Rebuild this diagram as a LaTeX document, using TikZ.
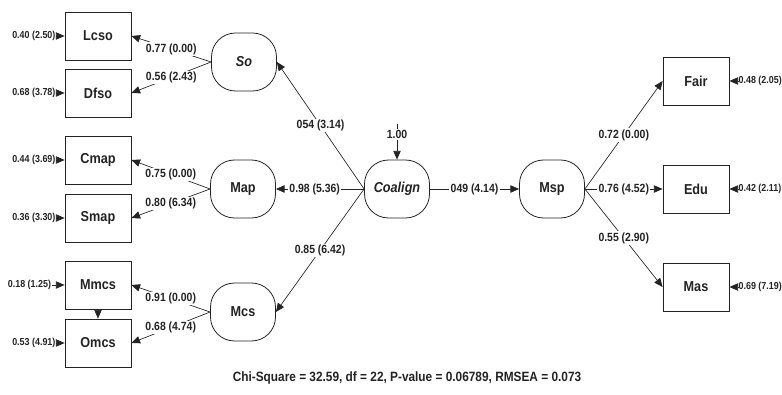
\documentclass[tikz,border=0pt]{standalone}
\usepackage{fontspec}
\setmainfont{Liberation Sans}[FakeStretch=0.88]
\usepackage{tikz}
\usetikzlibrary{arrows.meta, positioning}
\definecolor{pathink}{RGB}{35,35,35}
\tikzset{
  obsbox/.style={rectangle, draw=pathink, text=pathink,
    minimum width=49.5pt, minimum height=36pt,
    font=\fontsize{10.8}{12}\selectfont\bfseries, line width=0.6pt},
  latent/.style={rectangle, draw=pathink, text=pathink, rounded corners=18pt,
    minimum width=48.75pt, minimum height=43.5pt,
    font=\fontsize{10.8}{12}\selectfont\bfseries, line width=0.6pt},
  errlbl/.style={inner sep=0.5pt, text=pathink,
    font=\fontsize{7.6}{8}\selectfont\bfseries},
  coef/.style={fill=white, inner sep=1pt, text=pathink,
    font=\fontsize{8.9}{10}\selectfont\bfseries},
  arr/.style={-{Triangle[length=6.5pt,width=5.5pt]}, line width=0.5pt, color=pathink},
  line/.style={line width=0.5pt, color=pathink}
}
\begin{document}
\begin{tikzpicture}[x=0.75pt, y=-0.75pt]
  \useasboundingbox (0,0) rectangle (782,395);

  % Latent variables
  \node[latent] (so) at (244,62) {\itshape So};
  \node[latent] (map) at (243,189) {Map};
  \node[latent] (mcs) at (243,312) {Mcs};
  \node[latent] (coal) at (397,189) {\itshape Coalign};
  \node[latent] (msp) at (552,189) {Msp};

  % Indicators, left
  \node[obsbox] (lcso) at (98,36) {Lcso};
  \node[obsbox] (dfso) at (98,93) {Dfso};
  \node[obsbox] (cmap) at (98,160) {Cmap};
  \node[obsbox] (smap) at (98,218) {Smap};
  \node[obsbox] (mmcs) at (98,285) {Mmcs};
  \node[obsbox] (omcs) at (98,343) {Omcs};

  % Indicators, right
  \node[obsbox] (fair) at (696,81) {Fair};
  \node[obsbox] (edu) at (696,189) {Edu};
  \node[obsbox] (mas) at (696,287) {Mas};

  % Error terms
  \node[errlbl, left=6.2pt of lcso] (elcso) {0.40 (2.50)};
  \node[errlbl, left=6.2pt of dfso] (edfso) {0.68 (3.78)};
  \node[errlbl, left=6.2pt of cmap] (ecmap) {0.44 (3.69)};
  \node[errlbl, left=6.2pt of smap] (esmap) {0.36 (3.30)};
  \node[errlbl, left=9.5pt of mmcs] (emmcs) {0.18 (1.25)};
  \node[errlbl, left=6.2pt of omcs] (eomcs) {0.53 (4.91)};
  \node[errlbl, right=6.2pt of fair] (efair) {0.48 (2.05)};
  \node[errlbl, right=6.2pt of edu] (eedu) {0.42 (2.11)};
  \node[errlbl, right=6.2pt of mas] (emas) {0.69 (7.19)};
  \foreach \e/\b in {elcso/lcso, edfso/dfso, ecmap/cmap, esmap/smap,
    emmcs/mmcs, eomcs/omcs, efair/fair, eedu/edu, emas/mas}
    \draw[arr] (\e) -- (\b);

  % Loadings
  \draw[arr] (so.west) -- (lcso.east) node[coef, midway] {0.77 (0.00)};
  \draw[arr] (so.west) -- (dfso.east) node[coef, midway] {0.56 (2.43)};
  \draw[arr] (map.west) -- (cmap.east) node[coef, midway] {0.75 (0.00)};
  \draw[arr] (map.west) -- (smap.east) node[coef, midway] {0.80 (6.34)};
  \draw[arr] (mcs.west) -- (mmcs.east) node[coef, midway] {0.91 (0.00)};
  \draw[arr] (mcs.west) -- (omcs.east) node[coef, midway] {0.68 (4.74)};
  \draw[arr] (mmcs) -- (omcs);

  % Structural paths
  \draw[arr] (coal.west) -- (so.east) node[coef, midway] {054 (3.14)};
  \draw[arr] (coal.west) -- (map.east) node[coef, pos=0.56] {0.98 (5.36)};
  \draw[arr] (coal.west) -- (mcs.east) node[coef, midway] {0.85 (6.42)};
  \draw[arr] (coal) -- (msp) node[coef, midway] {049 (4.14)};
  \coordinate (ecoal) at (397,124);
  \draw[arr] (ecoal) -- (coal) node[coef, pos=0.3] {1.00};

  \draw[arr] (msp.east) -- (fair.west) node[coef, midway] {0.72 (0.00)};
  \draw[arr] (msp.east) -- (edu.west) node[coef, midway] {0.76 (4.52)};
  \draw[arr] (msp.east) -- (mas.west) node[coef, midway] {0.55 (2.90)};

  % Fit statistics
  \node[text=pathink, font=\fontsize{10.1}{11}\selectfont\bfseries] (fitstat) at (407,378)
    {Chi-Square = 32.59, df = 22, P-value = 0.06789, RMSEA = 0.073};
\end{tikzpicture}
\end{document}
